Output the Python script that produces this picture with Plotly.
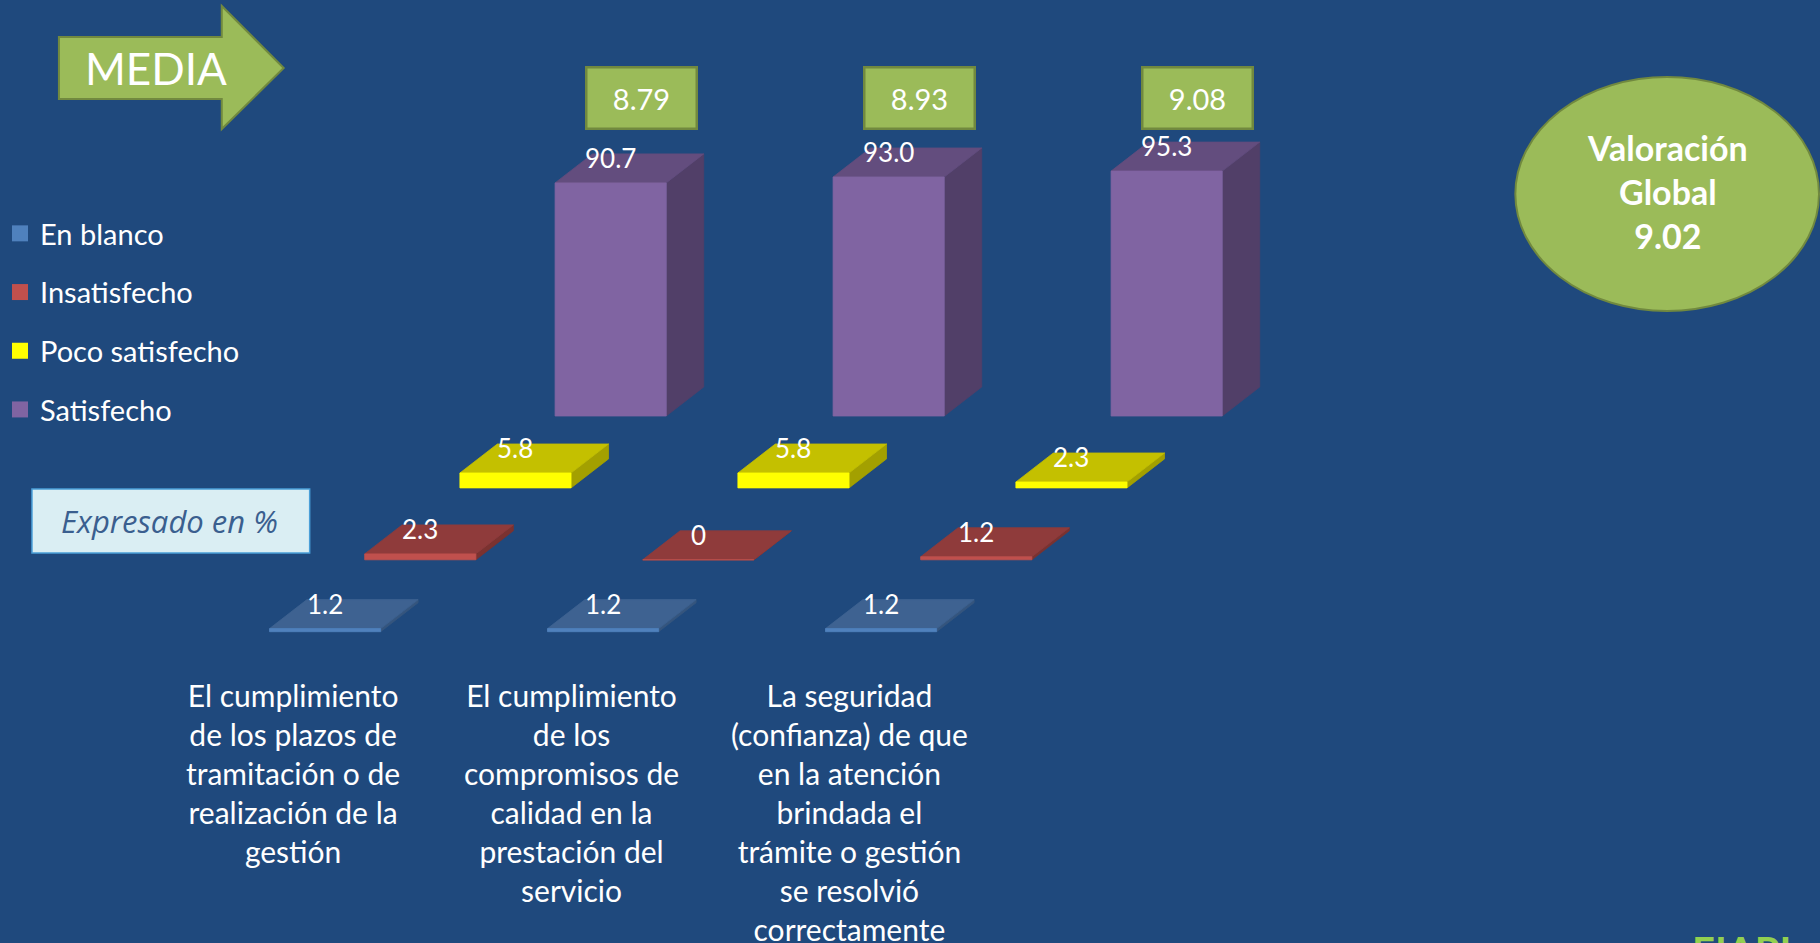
import plotly.graph_objects as go

W, H = 1820, 943

# ---- data -------------------------------------------------------------
categories = [
    "El cumplimiento<br>de los plazos de<br>tramitación o de<br>realización de la<br>gestión",
    "El cumplimiento<br>de los<br>compromisos de<br>calidad en la<br>prestación del<br>servicio",
    "La seguridad<br>(confianza) de que<br>en la atención<br>brindada el<br>trámite o gestión<br>se resolvió<br>correctamente",
]
series_names = ["En blanco", "Insatisfecho", "Poco satisfecho", "Satisfecho"]
en_blanco = [1.2, 1.2, 1.2]
insatisfecho = [2.3, 0, 1.2]
poco_satisfecho = [5.8, 5.8, 2.3]
satisfecho = [90.7, 93.0, 95.3]
media = [8.79, 8.93, 9.08]
valoracion_global = 9.02

# ---- styling ----------------------------------------------------------
BG = "#1F497D"
GREEN = "#9BBB59"
GREEN_EDGE = "#71893F"
FONT = "Lato"

# front / top / side colours of each series
face_colors = {
    "En blanco": ("#4F81BD", "#3E6291", "#35557E"),
    "Insatisfecho": ("#C0504D", "#8F3B3B", "#7B3230"),
    "Poco satisfecho": ("#FFFF00", "#C4C000", "#A3A000"),
    "Satisfecho": ("#8064A2", "#634D7E", "#513F68"),
}
label_fmt = {
    "En blanco": "{:g}",
    "Insatisfecho": "{:g}",
    "Poco satisfecho": "{:g}",
    "Satisfecho": "{:.1f}",
}

# ---- oblique 3-D projection (x in category steps, y in percent) --------
CAT_PX = 278.3          # pixels per category step
PCT_PX = 2.57           # pixels per percentage point
ORIGIN_PX = (553.7, 416.0)
BAR_W = 111.3 / CAT_PX
DEPTH_DX = 37.5 / CAT_PX
DEPTH_DY = 29.0 / PCT_PX
ROW_DX = -95.3 / CAT_PX
ROW_DY = -71.9 / PCT_PX

x_range = [-ORIGIN_PX[0] / CAT_PX, (W - ORIGIN_PX[0]) / CAT_PX]
y_range = [-(H - ORIGIN_PX[1]) / PCT_PX, ORIGIN_PX[1] / PCT_PX]


def px(x):
    return x / W


def py(y):
    return 1 - y / H


values = {
    "En blanco": en_blanco,
    "Insatisfecho": insatisfecho,
    "Poco satisfecho": poco_satisfecho,
    "Satisfecho": satisfecho,
}
# depth rows from back to front
depth_order = ["Satisfecho", "Poco satisfecho", "Insatisfecho", "En blanco"]

fig = go.Figure()
annotations = []

for d, name in enumerate(depth_order):
    front_c, top_c, side_c = face_colors[name]
    faces = {"side": ([], []), "top": ([], []), "front": ([], [])}
    for c, v in enumerate(values[name]):
        x0 = c + d * ROW_DX
        y0 = d * ROW_DY
        x1 = x0 + BAR_W
        y1 = y0 + v
        fx, fy = faces["front"]
        fx += [x0, x1, x1, x0, x0, None]
        fy += [y0, y0, y1, y1, y0, None]
        tx, ty = faces["top"]
        tx += [x0, x1, x1 + DEPTH_DX, x0 + DEPTH_DX, x0, None]
        ty += [y1, y1, y1 + DEPTH_DY, y1 + DEPTH_DY, y1, None]
        sx, sy = faces["side"]
        sx += [x1, x1 + DEPTH_DX, x1 + DEPTH_DX, x1, x1, None]
        sy += [y0, y0 + DEPTH_DY, y1 + DEPTH_DY, y1, y0, None]
        annotations.append(dict(
            x=x0 + BAR_W / 2, y=y1, xref="x", yref="y",
            text=label_fmt[name].format(v), showarrow=False,
            yshift=25, xanchor="center", yanchor="middle",
            font=dict(family=FONT, size=26, color="white"),
        ))
    for face, col in (("side", side_c), ("top", top_c), ("front", front_c)):
        xs, ys = faces[face]
        fig.add_trace(go.Scatter(
            x=xs, y=ys, mode="lines", fill="toself", fillcolor=col,
            line=dict(color=col, width=0.8), showlegend=False,
            hoverinfo="skip", name=name,
        ))

# legend entries
for i, name in enumerate(series_names):
    fig.add_trace(go.Scatter(
        x=[None], y=[None], mode="markers", name=name,
        legendgroup=name,
        marker=dict(symbol="square", size=16, color=face_colors[name][0]),
    ))

# category labels
for c, text in enumerate(categories):
    annotations.append(dict(
        x=c - 262.0 / CAT_PX, y=py(675), xref="x", yref="paper",
        text=text, showarrow=False, xanchor="center", yanchor="top",
        align="center", font=dict(family=FONT, size=30, color="white"),
    ))

# "MEDIA" boxes above each column
for c, m in enumerate(media):
    annotations.append(dict(
        x=c + 86.7 / CAT_PX, y=py(98), xref="x", yref="paper",
        text=f"{m:.2f}", showarrow=False, xanchor="center", yanchor="middle",
        width=108, height=59, borderpad=0,
        bgcolor=GREEN, bordercolor=GREEN_EDGE, borderwidth=2.5,
        font=dict(family=FONT, size=29, color="white"),
    ))

shapes = []
# MEDIA arrow
arrow_pts = [(57, 37), (220, 37), (220, 6), (282, 68), (220, 129), (220, 99), (57, 99)]
path = "M " + " L ".join(f"{px(x):.5f},{py(y):.5f}" for x, y in arrow_pts) + " Z"
shapes.append(dict(type="path", path=path, xref="paper", yref="paper",
                   fillcolor=GREEN, line=dict(color=GREEN_EDGE, width=2)))
annotations.append(dict(
    x=px(154), y=py(68), xref="paper", yref="paper", text="MEDIA",
    showarrow=False, xanchor="center", yanchor="middle",
    font=dict(family=FONT, size=44, color="white"),
))

# global rating ellipse
shapes.append(dict(type="circle", xref="paper", yref="paper",
                   x0=px(1515), x1=px(1819), y0=py(311), y1=py(77),
                   fillcolor=GREEN, line=dict(color=GREEN_EDGE, width=2)))
annotations.append(dict(
    x=px(1667), y=py(191), xref="paper", yref="paper",
    text=f"<b>Valoración<br>Global<br>{valoracion_global:.2f}</b>",
    showarrow=False, xanchor="center", yanchor="middle", align="center",
    font=dict(family=FONT, size=34, color="white"),
))

# unit note
shapes.append(dict(type="rect", xref="paper", yref="paper",
                   x0=px(30), x1=px(308), y0=py(553), y1=py(489),
                   fillcolor="#DAEEF3", line=dict(color="#4A9FD8", width=1.5)))
annotations.append(dict(
    x=px(168), y=py(521), xref="paper", yref="paper",
    text="<i>Expresado en %</i>", showarrow=False,
    xanchor="center", yanchor="middle",
    font=dict(family="Open Sans", size=31, color="#3A5F8F"),
))

# corner logo text
annotations.append(dict(
    x=px(1690), y=py(925), xref="paper", yref="paper", text="<b>EIAPI</b>",
    showarrow=False, xanchor="left", yanchor="top",
    font=dict(family=FONT, size=40, color="#92D050"),
))

fig.update_layout(
    width=W, height=H,
    margin=dict(l=0, r=0, t=0, b=0),
    paper_bgcolor=BG, plot_bgcolor=BG,
    xaxis=dict(range=x_range, visible=False, fixedrange=True),
    yaxis=dict(range=y_range, visible=False, fixedrange=True),
    showlegend=True,
    legend=dict(
        x=px(-2), y=py(208), xanchor="left", yanchor="top",
        bgcolor="rgba(0,0,0,0)", tracegroupgap=18,
        font=dict(family=FONT, size=29, color="white"),
        itemclick=False, itemdoubleclick=False,
    ),
    shapes=shapes,
    annotations=annotations,
)

fig.write_html("out.html")
